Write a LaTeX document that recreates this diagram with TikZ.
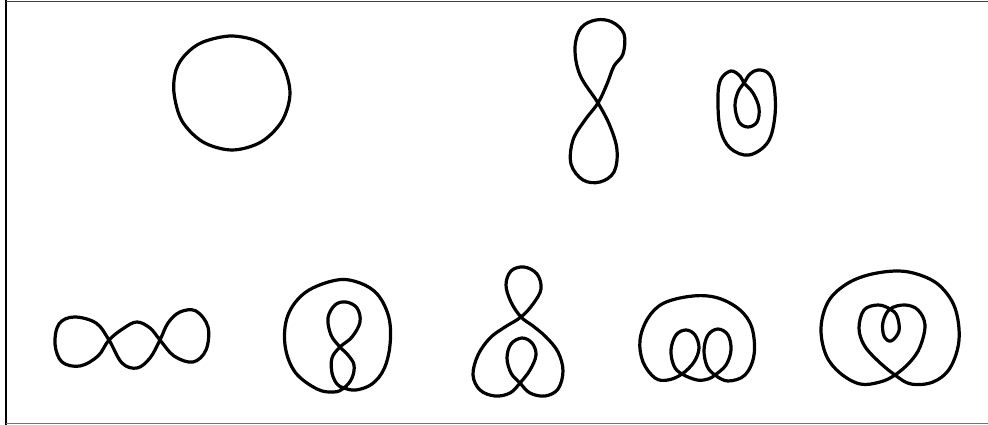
\documentclass[tikz,border=0pt]{standalone}
\begin{document}
\begin{tikzpicture}[x=1pt,y=-1pt,
  knot/.style={line width=3.2pt,line join=round,line cap=round,black},
  frameline/.style={line width=1.6pt}]
\useasboundingbox (0,0) rectangle (988,425);
% frame
\draw[frameline,black] (6,0) -- (6,425);
\draw[frameline,black!75] (6,1.5) -- (988,1.5);
\draw[frameline,black!55] (6,423.5) -- (988,423.5);

% 1: circle
\draw[knot] plot[smooth cycle,tension=0.55] coordinates {
 (290,93) (282,64) (261,43) (232,36) (203,42) (186,54) (176,70) (174,93)
 (182,121) (203,142) (232,150) (261,142) (282,121)};

% 2: vertical figure eight
\draw[knot] plot[smooth cycle,tension=0.6] coordinates {
 (598,103) (607,84) (614,66) (623,54) (624,34) (612,22) (596,20) (581,28)
 (575,48) (580,75) (598,103) (610,126) (617,150) (614,172) (600,182)
 (583,180) (571,164) (573,140) (585,120)};

% 3: small curl
\draw[knot] plot[smooth cycle,tension=0.6] coordinates {
 (731,71) (740,76) (744,83) (753,93) (759,108) (757,122) (748,127) (739,122)
 (735,106) (738,92) (744,83) (750,74) (758,70) (768,73) (774,86) (775,115)
 (768,142) (749,155) (730,148) (720,128) (718,96) (721,79)};

% 4: chain of three loops
\draw[knot] plot[smooth cycle,tension=0.6] coordinates {
 (109,340) (124,328) (137,322) (150,328) (160,340) (174,356) (193,362)
 (206,350) (208,327) (196,311) (180,312) (168,323) (160,340) (150,358)
 (137,368) (122,363) (109,340) (96,323) (74,317) (59,324) (55,344)
 (62,362) (80,366) (98,356)};

% 5: circle with figure eight
\draw[knot] plot[smooth cycle,tension=0.6] coordinates {
 (337,280) (306,292) (288,315) (285,345) (295,372) (317,389) (334,392)
 (344,388) (352,378) (354,365) (348,355) (340,347) (331,335) (328,318)
 (335,305) (346,302) (357,308) (360,322) (352,337) (340,347) (332,358)
 (332,373) (337,384) (344,388) (356,390) (372,384) (384,369) (390,345)
 (389,318) (378,295) (360,283)};

% 6: loop over heart
\draw[knot] plot[smooth cycle,tension=0.6] coordinates {
 (521,317) (511,302) (506,285) (511,271) (524,267) (537,274) (541,289)
 (533,304) (521,317) (505,327) (490,338) (478,355) (473,375) (480,390)
 (495,396) (510,393) (520,383) (530,370) (536,355) (532,343) (522,338)
 (511,344) (507,358) (511,373) (520,383) (530,393) (545,396) (558,389)
 (563,371) (558,352) (546,337) (533,326)};

% 7: dome with two curls
\draw[knot] plot[smooth cycle,tension=0.6] coordinates {
 (693,296) (664,303) (648,318) (640,340) (643,362) (655,378) (668,380)
 (682,374) (694,362) (699,348) (695,335) (686,330) (676,335) (671,350)
 (674,366) (682,374) (697,380) (708,379) (715,375) (726,365) (731,350)
 (728,335) (718,329) (708,335) (704,350) (707,366) (715,375) (728,381)
 (745,375) (754,355) (752,328) (740,310) (718,298)};

% 8: ring with heart and curl
\draw[knot] plot[smooth cycle,tension=0.6] coordinates {
 (897,271) (868,275) (845,285) (828,302) (821,328) (826,355) (840,373)
 (860,384) (880,382) (895,375) (910,362) (920,347) (925,325) (918,310)
 (905,305) (890,309) (883,322) (884,336) (891,341) (899,331) (897,316)
 (890,309) (878,305) (864,310) (859,328) (864,345) (877,360) (895,375)
 (911,384) (933,382) (950,368) (959,340) (955,308) (940,286) (920,275)};
\end{tikzpicture}
\end{document}
